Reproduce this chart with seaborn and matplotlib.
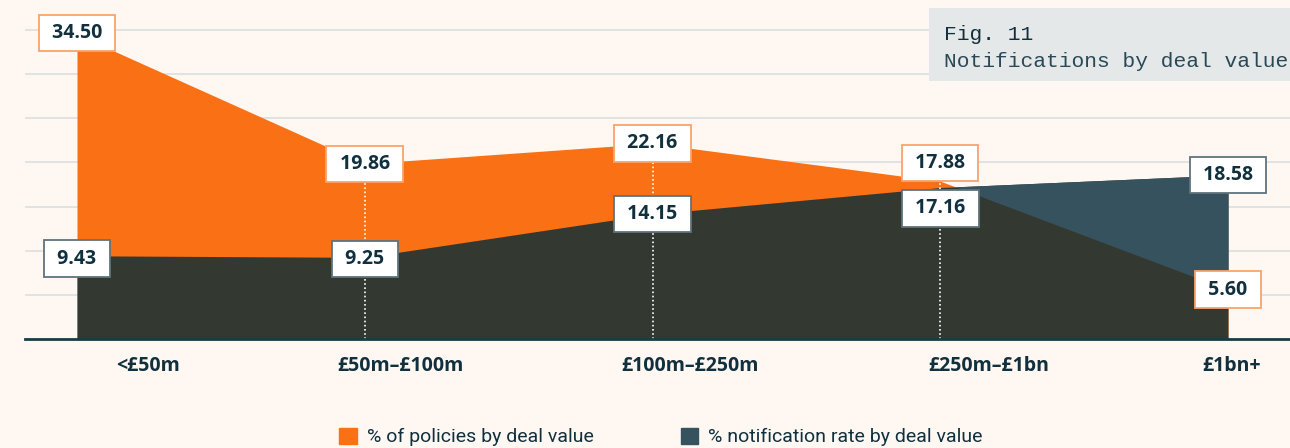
import numpy as np
import matplotlib
matplotlib.use("Agg")
import matplotlib.pyplot as plt
import matplotlib.transforms as mtransforms
from matplotlib.patches import Patch, Rectangle
import seaborn as sns

# data
categories = ["<£50m", "£50m–£100m", "£100m–£250m", "£250m–£1bn", "£1bn+"]
policies_pct = [34.50, 19.86, 22.16, 17.88, 5.60]
notification_pct = [9.43, 9.25, 14.15, 17.16, 18.58]
series_names = ["% of policies by deal value", "% notification rate by deal value"]

# colours
bg = "#fef7f2"
orange = "#f97114"
teal = "#36525e"
overlap = "#333931"
ink = "#11303e"

sns.set_theme(style="white", rc={"axes.facecolor": bg, "figure.facecolor": bg})
plt.rcParams["font.family"] = ["Open Sans", "DejaVu Sans"]

fig = plt.figure(figsize=(12.9, 4.48), dpi=100)
ax = fig.add_axes([25 / 1290, 109 / 448, 1 - 25 / 1290, 339 / 448])

x = np.arange(len(categories))
pol = np.array(policies_pct)
notif = np.array(notification_pct)

# areas: orange, then dark overlap, then teal where notifications exceed policies
ax.fill_between(x, 0, pol, color=orange, lw=0, zorder=2)
ax.fill_between(x, 0, notif, color=overlap, lw=0, zorder=3)
ax.fill_between(x, pol, notif, where=notif >= pol, interpolate=True,
                color=teal, lw=0, zorder=4)

# dotted guide lines for inner categories
ax.vlines(x[1:-1], 0, pol[1:-1], colors="white", linestyles=(0, (1, 1.5)),
          lw=1.2, zorder=5)

# value labels
pol_dy = [1, 0, 0, 13, 0]
notif_dy = [-2, -1, 0, -15, 0]
for xi, v, dy in zip(x, pol, pol_dy):
    ax.annotate(f" {v:.2f} ", (xi, v), xytext=(0, dy), textcoords="offset points",
                ha="center", va="center", fontsize=14, fontweight="bold", color=ink,
                bbox=dict(boxstyle="square,pad=0.42", fc="white", ec="#f9a36b", lw=1.3),
                zorder=7)
for xi, v, dy in zip(x, notif, notif_dy):
    ax.annotate(f" {v:.2f} ", (xi, v), xytext=(0, dy), textcoords="offset points",
                ha="center", va="center", fontsize=14, fontweight="bold", color=ink,
                bbox=dict(boxstyle="square,pad=0.42", fc="white", ec="#5f737c", lw=1.3),
                zorder=6)

ax.set_xlim(-52 / 287.75, 4 + 62 / 287.75)
ax.set_ylim(0, 38.4)
ax.set_yticks(np.arange(5, 40, 5))
ax.yaxis.grid(True, color="#dcdfe0", lw=1.2)
ax.set_axisbelow(True)
ax.tick_params(axis="y", left=False, labelleft=False)

ax.set_xticks(x)
ax.set_xticklabels(categories, fontsize=14, fontweight="bold", color=ink)
ax.tick_params(axis="x", bottom=False, pad=6)
label_dx = [71, 36, 37, 48, 4]
for lab, dx in zip(ax.get_xticklabels(), label_dx):
    lab.set_transform(lab.get_transform() +
                      mtransforms.ScaledTranslation(dx / 100, 0, fig.dpi_scale_trans))

sns.despine(ax=ax, left=True, top=True, right=True)
ax.spines["bottom"].set_color("#1d3947")
ax.spines["bottom"].set_linewidth(2)
ax.spines["bottom"].set_zorder(8)

# figure caption box
fig.patches.append(Rectangle((929 / 1290, 1 - 81 / 448), 0.3, 73 / 448,
                             transform=fig.transFigure, fc="#e4e8e9", ec="none", zorder=1))
fig.text(944 / 1290, 1 - 40 / 448, "Fig. 11", family="Liberation Mono", fontsize=15.3,
         color=ink, va="baseline", ha="left")
fig.text(944 / 1290, 1 - 67 / 448, "Notifications by deal value", family="Liberation Mono",
         fontsize=15.3, color="#2a4855", va="baseline", ha="left")

# legend
handles = [Patch(color=orange), Patch(color=teal)]
fig.legend(handles, series_names, loc="center", bbox_to_anchor=(661 / 1290, 11 / 448),
           ncol=2, frameon=False, handlelength=0.9, handleheight=0.9,
           handletextpad=0.5, columnspacing=4.5, labelcolor=ink,
           prop={"family": "Roboto", "size": 14})

fig.savefig("out.png", dpi=100, facecolor=bg)
